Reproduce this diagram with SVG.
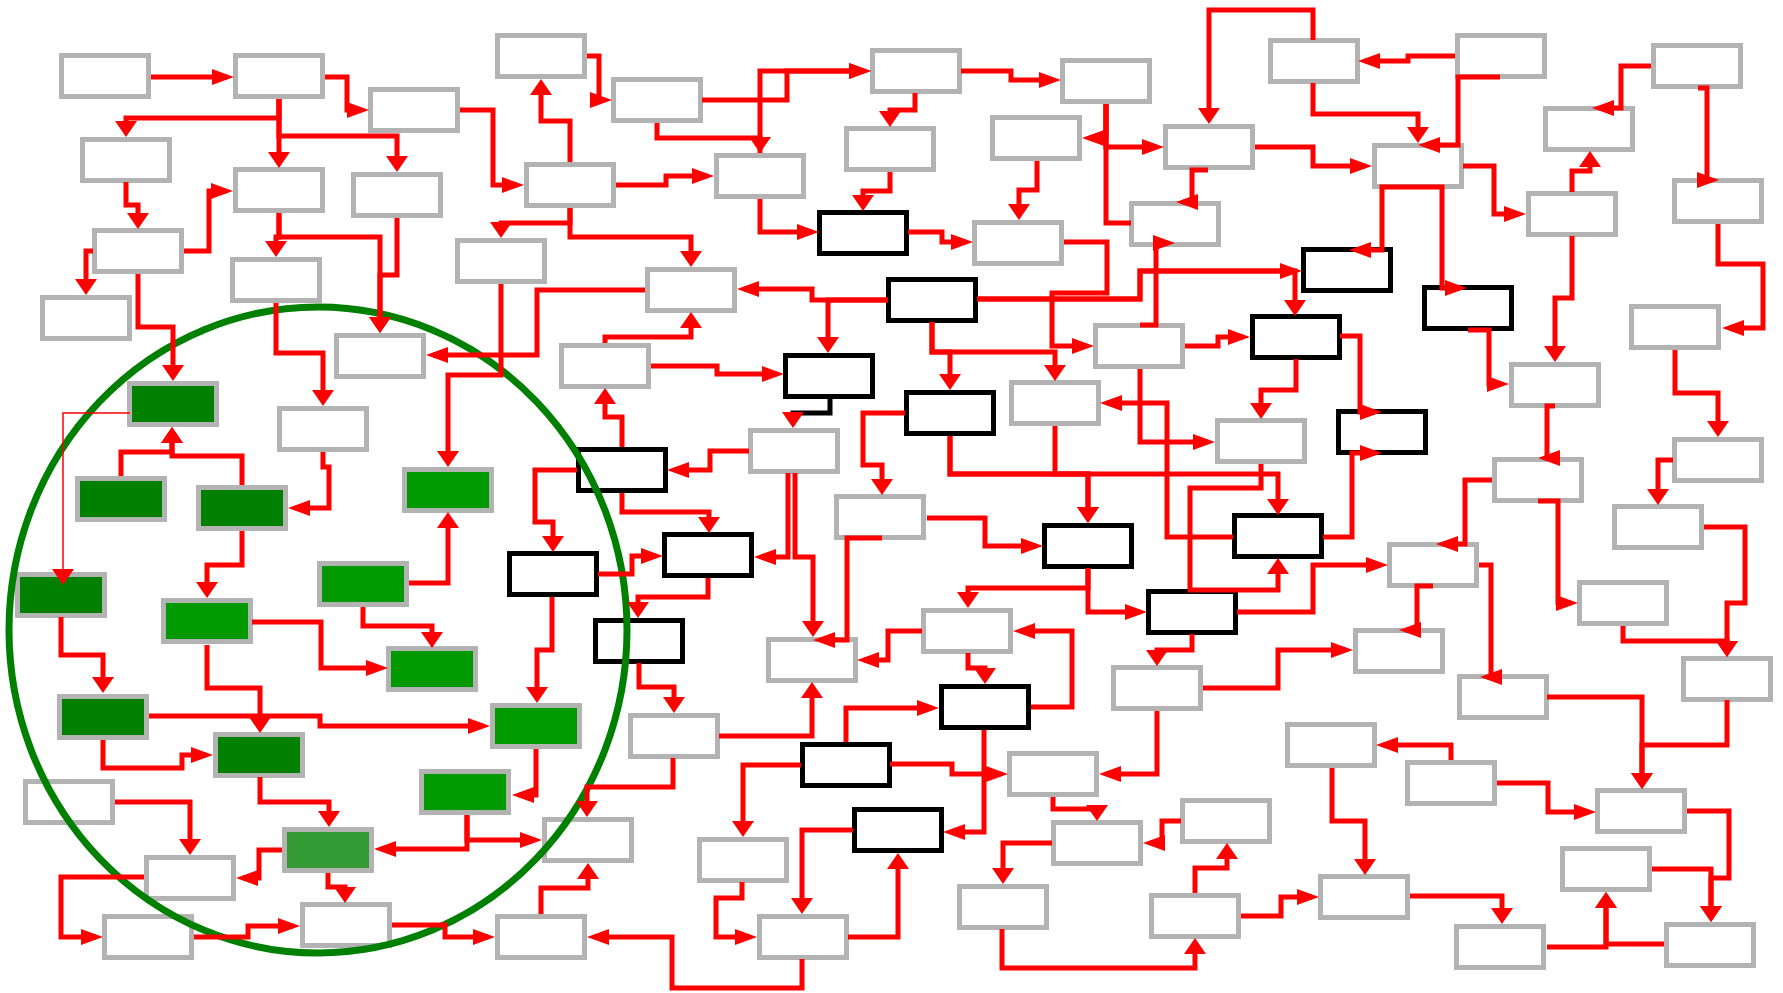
<svg xmlns="http://www.w3.org/2000/svg" width="1783" height="993" viewBox="0 0 1783 993">
<style>
.n rect{fill:#fff;stroke:#b3b3b3;stroke-width:5}
.k rect{stroke:#000}
.d rect{fill:#008000}
.e rect{fill:#009900}
.m rect{fill:#339933}
#conn path{fill:none;stroke:#f00;stroke-width:5}
#conn path.h{marker-end:url(#ah)}
#conn path.v{marker-end:url(#av)}
#conn path.t{stroke-width:1.5}
#conn path.bk{stroke:#000}
</style>
<defs>
<marker id="ah" markerUnits="userSpaceOnUse" markerWidth="22" markerHeight="16" refX="15" refY="8" orient="auto" overflow="visible"><path d="M0,0L22,8L0,16z" fill="#f00"/></marker>
<marker id="av" markerUnits="userSpaceOnUse" markerWidth="16" markerHeight="22" refX="10" refY="11" orient="auto" overflow="visible"><path d="M0,0L16,11L0,22z" fill="#f00"/></marker>
</defs>
<rect width="1783" height="993" fill="#fff"/>
<g id="nodes">
<g id="n1" class="n"><rect x="61.5" y="55.5" width="87" height="41"/></g>
<g id="n2" class="n"><rect x="235.5" y="55.5" width="87" height="41"/></g>
<g id="n3" class="n"><rect x="370.5" y="89.5" width="87" height="41"/></g>
<g id="n4" class="n"><rect x="82.5" y="139.5" width="87" height="41"/></g>
<g id="n5" class="n"><rect x="235.5" y="169.5" width="87" height="41"/></g>
<g id="n6" class="n"><rect x="353.5" y="174.5" width="87" height="41"/></g>
<g id="n7" class="n"><rect x="94.5" y="230.5" width="87" height="41"/></g>
<g id="n8" class="n"><rect x="232.5" y="259.5" width="87" height="41"/></g>
<g id="n9" class="n"><rect x="42.5" y="297.5" width="87" height="41"/></g>
<g id="n10" class="n"><rect x="336.5" y="335.5" width="87" height="41"/></g>
<g id="n11" class="n"><rect x="497.5" y="35.5" width="87" height="41"/></g>
<g id="n12" class="n"><rect x="613.5" y="79.5" width="87" height="41"/></g>
<g id="n13" class="n"><rect x="872.5" y="50.5" width="87" height="41"/></g>
<g id="n14" class="n"><rect x="526.5" y="164.5" width="87" height="41"/></g>
<g id="n15" class="n"><rect x="716.5" y="155.5" width="87" height="41"/></g>
<g id="n16" class="n"><rect x="846.5" y="128.5" width="87" height="41"/></g>
<g id="n17" class="n k"><rect x="819.5" y="212.5" width="87" height="41"/></g>
<g id="n18" class="n"><rect x="457.5" y="240.5" width="87" height="41"/></g>
<g id="n19" class="n"><rect x="647.5" y="269.5" width="87" height="41"/></g>
<g id="n20" class="n k"><rect x="888.5" y="279.5" width="87" height="41"/></g>
<g id="n21" class="n k"><rect x="785.5" y="355.5" width="87" height="41"/></g>
<g id="n22" class="n"><rect x="1062.5" y="60.5" width="87" height="41"/></g>
<g id="n23" class="n"><rect x="1131.5" y="203.5" width="87" height="41"/></g>
<g id="n24" class="n"><rect x="992.5" y="117.5" width="87" height="41"/></g>
<g id="n25" class="n"><rect x="1165.5" y="126.5" width="87" height="41"/></g>
<g id="n26" class="n"><rect x="1374.5" y="145.5" width="87" height="41"/></g>
<g id="n27" class="n"><rect x="1095.5" y="325.5" width="87" height="41"/></g>
<g id="n28" class="n k"><rect x="1303.5" y="249.5" width="87" height="41"/></g>
<g id="n29" class="n k"><rect x="1252.5" y="316.5" width="87" height="41"/></g>
<g id="n30" class="n"><rect x="974.5" y="222.5" width="87" height="41"/></g>
<g id="n31" class="n"><rect x="1011.5" y="382.5" width="87" height="41"/></g>
<g id="n32" class="n k"><rect x="906.5" y="392.5" width="87" height="41"/></g>
<g id="n34" class="n"><rect x="1217.5" y="420.5" width="87" height="41"/></g>
<g id="n35" class="n k"><rect x="1234.5" y="515.5" width="87" height="41"/></g>
<g id="n36" class="n k"><rect x="1044.5" y="525.5" width="87" height="41"/></g>
<g id="n37" class="n"><rect x="836.5" y="496.5" width="87" height="41"/></g>
<g id="n38" class="n"><rect x="923.5" y="610.5" width="87" height="41"/></g>
<g id="n39" class="n k"><rect x="1148.5" y="591.5" width="87" height="41"/></g>
<g id="n41" class="n"><rect x="1113.5" y="667.5" width="87" height="41"/></g>
<g id="n42" class="n"><rect x="561.5" y="345.5" width="87" height="41"/></g>
<g id="n44" class="n"><rect x="750.5" y="430.5" width="87" height="41"/></g>
<g id="n45" class="n k"><rect x="578.5" y="449.5" width="87" height="41"/></g>
<g id="n46" class="n k"><rect x="664.5" y="534.5" width="87" height="41"/></g>
<g id="n47" class="n k"><rect x="509.5" y="553.5" width="87" height="41"/></g>
<g id="n48" class="n k"><rect x="595.5" y="620.5" width="87" height="41"/></g>
<g id="n49" class="n"><rect x="768.5" y="639.5" width="87" height="41"/></g>
<g id="n51" class="n"><rect x="279.5" y="408.5" width="87" height="41"/></g>
<g id="n52" class="n"><rect x="25.5" y="781.5" width="87" height="41"/></g>
<g id="n53" class="n"><rect x="146.5" y="857.5" width="87" height="41"/></g>
<g id="n54" class="n"><rect x="104.5" y="916.5" width="87" height="41"/></g>
<g id="n55" class="n"><rect x="302.5" y="904.5" width="87" height="41"/></g>
<g id="n57" class="n"><rect x="630.5" y="715.5" width="87" height="41"/></g>
<g id="n58" class="n"><rect x="544.5" y="819.5" width="87" height="41"/></g>
<g id="n59" class="n"><rect x="497.5" y="916.5" width="87" height="41"/></g>
<g id="n60" class="n k"><rect x="802.5" y="744.5" width="87" height="41"/></g>
<g id="n61" class="n"><rect x="699.5" y="839.5" width="87" height="41"/></g>
<g id="n62" class="n"><rect x="759.5" y="916.5" width="87" height="41"/></g>
<g id="n63" class="n k"><rect x="854.5" y="809.5" width="87" height="41"/></g>
<g id="n64" class="n k"><rect x="941.5" y="686.5" width="87" height="41"/></g>
<g id="n65" class="n"><rect x="1009.5" y="753.5" width="87" height="41"/></g>
<g id="n66" class="n"><rect x="1182.5" y="800.5" width="87" height="41"/></g>
<g id="n67" class="n"><rect x="1053.5" y="822.5" width="87" height="41"/></g>
<g id="n68" class="n"><rect x="959.5" y="886.5" width="87" height="41"/></g>
<g id="n69" class="n"><rect x="1151.5" y="895.5" width="87" height="41"/></g>
<g id="n70" class="n"><rect x="1287.5" y="724.5" width="87" height="41"/></g>
<g id="n71" class="n"><rect x="1320.5" y="876.5" width="87" height="41"/></g>
<g id="n72" class="n"><rect x="1355.5" y="630.5" width="87" height="41"/></g>
<g id="n73" class="n"><rect x="1459.5" y="676.5" width="87" height="41"/></g>
<g id="n74" class="n"><rect x="1683.5" y="658.5" width="87" height="41"/></g>
<g id="n75" class="n"><rect x="1407.5" y="762.5" width="87" height="41"/></g>
<g id="n76" class="n"><rect x="1597.5" y="790.5" width="87" height="41"/></g>
<g id="n78" class="n"><rect x="1562.5" y="848.5" width="87" height="41"/></g>
<g id="n79" class="n"><rect x="1456.5" y="926.5" width="87" height="41"/></g>
<g id="n80" class="n"><rect x="1666.5" y="924.5" width="87" height="41"/></g>
<g id="n82" class="n k"><rect x="1424.5" y="287.5" width="87" height="41"/></g>
<g id="n83" class="n k"><rect x="1338.5" y="411.5" width="87" height="41"/></g>
<g id="n84" class="n"><rect x="1511.5" y="364.5" width="87" height="41"/></g>
<g id="n85" class="n"><rect x="1494.5" y="459.5" width="87" height="41"/></g>
<g id="n86" class="n"><rect x="1631.5" y="306.5" width="87" height="41"/></g>
<g id="n87" class="n"><rect x="1674.5" y="439.5" width="87" height="41"/></g>
<g id="n88" class="n"><rect x="1614.5" y="506.5" width="87" height="41"/></g>
<g id="n89" class="n"><rect x="1389.5" y="544.5" width="87" height="41"/></g>
<g id="n90" class="n"><rect x="1579.5" y="582.5" width="87" height="41"/></g>
<g id="n93" class="n"><rect x="1270.5" y="40.5" width="87" height="41"/></g>
<g id="n94" class="n"><rect x="1457.5" y="35.5" width="87" height="41"/></g>
<g id="n95" class="n"><rect x="1653.5" y="45.5" width="87" height="41"/></g>
<g id="n96" class="n"><rect x="1545.5" y="108.5" width="87" height="41"/></g>
<g id="n97" class="n"><rect x="1528.5" y="193.5" width="87" height="41"/></g>
<g id="n98" class="n"><rect x="1674.5" y="180.5" width="87" height="41"/></g>
<g id="g1" class="n d"><rect x="129.5" y="383.5" width="87" height="41"/></g>
<g id="g2" class="n e"><rect x="404.5" y="469.5" width="87" height="41"/></g>
<g id="g4" class="n d"><rect x="77.5" y="478.5" width="87" height="41"/></g>
<g id="g5" class="n d"><rect x="198.5" y="487.5" width="87" height="41"/></g>
<g id="g7" class="n d"><rect x="17.5" y="574.5" width="87" height="41"/></g>
<g id="g8" class="n e"><rect x="163.5" y="600.5" width="87" height="41"/></g>
<g id="g9" class="n e"><rect x="319.5" y="563.5" width="87" height="41"/></g>
<g id="g10" class="n e"><rect x="388.5" y="648.5" width="87" height="41"/></g>
<g id="g11" class="n d"><rect x="59.5" y="696.5" width="87" height="41"/></g>
<g id="g12" class="n d"><rect x="215.5" y="734.5" width="87" height="41"/></g>
<g id="g13" class="n m"><rect x="284.5" y="829.5" width="87" height="41"/></g>
<g id="g14" class="n e"><rect x="421.5" y="771.5" width="87" height="41"/></g>
<g id="g15" class="n e"><rect x="492.5" y="705.5" width="87" height="41"/></g>
</g>
<ellipse id="region" cx="318" cy="630" rx="309" ry="323" fill="none" stroke="#008000" stroke-width="7"/>
<g id="conn">
<path class="h" d="M151,77 H227"/>
<path class="h" d="M325,77 H347 V110 H362"/>
<path class="v" d="M279,99 V118 H126 V131"/>
<path class="v" d="M279,99 V162"/>
<path class="v" d="M279,99 V136 H397 V166"/>
<path class="v" d="M126,182 V205 H138 V223"/>
<path class="h" d="M184,251 H209 V191 H226"/>
<path class="v" d="M93,251 H86 V289"/>
<path class="v" d="M138,274 V327 H173 V375"/>
<path class="v" d="M279,213 V237 H276 V251"/>
<path class="v" d="M279,213 V237 H380 V327"/>
<path class="v" d="M397,218 V275 H380 V327"/>
<path class="v" d="M276,303 V353 H323 V400"/>
<path class="h" d="M460,110 H493 V185 H517"/>
<path class="h" d="M587,56 H599 V100 H605"/>
<path class="v" d="M570,162 V121 H541 V85"/>
<path class="h" d="M702,100 H787 V71 H864"/>
<path class="h" d="M760,153 V71 H864"/>
<path class="v" d="M657,123 V138 H760 V147"/>
<path class="h" d="M616,185 H666 V176 H707"/>
<path class="v" d="M570,208 V223 H501 V232"/>
<path class="v" d="M570,208 V237 H691 V261"/>
<path class="h" d="M760,199 V232 H812"/>
<path class="v" d="M915,93 V110 H890 V121"/>
<path class="v" d="M890,172 V191 H863 V205"/>
<path class="h" d="M908,232 H942 V242 H966"/>
<path class="h" d="M961,71 H1011 V80 H1054"/>
<path class="h" d="M1106,104 V138 H1089"/>
<path class="h" d="M1106,104 V147 H1157"/>
<path d="M1106,104 V223 H1131"/>
<path class="v" d="M1037,161 V190 H1019 V214"/>
<path class="v" d="M1313,40 V10 H1209 V118"/>
<path class="h" d="M1255,147 H1313 V166 H1365"/>
<path class="h" d="M1208,170 H1192 V202 H1183"/>
<path class="h" d="M1140,325 H1156 V243 H1168"/>
<path class="h" d="M1064,242 H1107 V293 H1052 V346 H1087"/>
<path class="h" d="M977,299 H1140 V271 H1295"/>
<path class="v" d="M977,299 H1140 V271 H1295 V310"/>
<path class="h" d="M888,300 H812 V289 H744"/>
<path class="v" d="M888,300 H828 V347"/>
<path class="v" d="M932,322 V352 H950 V384"/>
<path class="v" d="M932,322 V352 H1055 V375"/>
<path class="h" d="M1185,346 H1218 V337 H1243"/>
<path class="v" d="M1296,359 V390 H1261 V413"/>
<path class="h" d="M1140,369 V442 H1208"/>
<path class="h" d="M1233,537 H1167 V403 H1107"/>
<path class="v" d="M950,436 V474 H1088 V517"/>
<path class="v" d="M950,436 V474 H1278 V509"/>
<path class="v" d="M1055,426 V474 H1088 V517"/>
<path class="v" d="M1261,464 V488 H1190 V590 H1278 V564"/>
<path class="h" d="M927,518 H985 V546 H1036"/>
<path class="v" d="M1088,568 V588 H968 V602"/>
<path class="h" d="M1088,568 V612 H1140"/>
<path class="h" d="M1237,612 H1313 V565 H1381"/>
<path class="v" d="M1192,634 V650 H1157 V660"/>
<path class="v" d="M905,413 H863 V465 H882 V489"/>
<path class="h" d="M922,631 H888 V660 H864"/>
<path class="h" d="M1031,707 H1072 V631 H1020"/>
<path class="v" d="M968,653 V668 H985 V678"/>
<path class="h" d="M846,742 V708 H932"/>
<path class="h" d="M890,764 H952 V774 H1001"/>
<path class="h" d="M984,730 V832 H950"/>
<path class="h" d="M1157,711 V774 H1106"/>
<path class="h" d="M1203,688 H1278 V650 H1346"/>
<path class="v" d="M1053,797 V809 H1097 V815"/>
<path class="h" d="M1181,821 H1162 V843 H1150"/>
<path class="v" d="M1052,843 H1003 V878"/>
<path class="v" d="M1002,929 V968 H1195 V944"/>
<path class="v" d="M1195,893 V868 H1227 V849"/>
<path class="h" d="M1241,916 H1281 V897 H1312"/>
<path class="v" d="M605,343 V337 H691 V318"/>
<path class="h" d="M651,366 H717 V374 H777"/>
<path class="v bk" d="M830,398 V413 H793 V422"/>
<path class="h" d="M749,451 H710 V470 H674"/>
<path class="v" d="M622,447 V417 H605 V394"/>
<path class="v" d="M577,470 H535 V522 H553 V546"/>
<path class="v" d="M622,493 V512 H709 V527"/>
<path class="h" d="M788,473 V557 H761"/>
<path class="v" d="M795,473 V557 H813 V631"/>
<path class="h" d="M598,574 H632 V556 H656"/>
<path class="v" d="M708,578 V597 H638 V612"/>
<path class="v" d="M552,597 V650 H537 V697"/>
<path class="h" d="M645,290 H537 V355 H433"/>
<path class="v" d="M501,284 V375 H448 V461"/>
<path class="v" d="M409,583 H448 V518"/>
<path class="h" d="M882,538 H847 V640 H820"/>
<path class="v" d="M639,663 V687 H674 V707"/>
<path class="v" d="M719,736 H812 V688"/>
<path class="h" d="M536,749 V795 H519"/>
<path class="v" d="M673,758 V787 H587 V811"/>
<path class="h" d="M467,815 V840 H535"/>
<path class="h" d="M467,815 V849 H381"/>
<path class="v" d="M541,914 V888 H588 V869"/>
<path class="h" d="M392,925 H445 V937 H488"/>
<path class="h" d="M802,959 V988 H672 V937 H594"/>
<path class="v" d="M801,765 H743 V831"/>
<path class="v" d="M853,830 H802 V908"/>
<path class="h" d="M742,882 V898 H716 V937 H750"/>
<path class="v" d="M848,937 H898 V859"/>
<path class="h" d="M1455,56 H1408 V61 H1365"/>
<path class="h" d="M1500,77 H1458 V145 H1425"/>
<path class="v" d="M1313,83 V114 H1418 V137"/>
<path class="h" d="M1463,166 H1494 V214 H1519"/>
<path class="v" d="M1572,192 V171 H1590 V157"/>
<path class="h" d="M1651,66 H1621 V108 H1599"/>
<path class="h" d="M1698,88 H1707 V180 H1712"/>
<path class="h" d="M1718,224 V264 H1763 V328 H1729"/>
<path class="h" d="M1418,187 H1382 V250 H1356"/>
<path class="h" d="M1418,187 H1442 V288 H1460"/>
<path class="v" d="M1572,236 V298 H1555 V356"/>
<path class="h" d="M1340,336 H1360 V412 H1375"/>
<path class="h" d="M1323,537 H1352 V453 H1375"/>
<path class="h" d="M1468,330 H1489 V384 H1502"/>
<path class="v" d="M1675,350 V393 H1718 V431"/>
<path class="h" d="M1555,406 H1547 V458 H1545"/>
<path class="h" d="M1492,480 H1465 V544 H1443"/>
<path class="h" d="M1538,501 H1558 V603 H1571"/>
<path class="v" d="M1673,460 H1658 V499"/>
<path class="v" d="M1704,527 H1745 V603 H1727 V651"/>
<path class="v" d="M1623,626 V641 H1727 V651"/>
<path class="h" d="M1433,586 H1417 V630 H1406"/>
<path class="h" d="M1479,565 H1491 V677 H1487"/>
<path class="v" d="M1547,697 H1642 V783"/>
<path class="v" d="M1727,700 V745 H1642 V783"/>
<path class="h" d="M1451,760 V745 H1383"/>
<path class="h" d="M1497,783 H1548 V812 H1589"/>
<path class="v" d="M1332,768 V821 H1365 V869"/>
<path class="v" d="M1410,896 H1502 V918"/>
<path class="v" d="M1687,811 H1729 V878 H1711 V916"/>
<path class="v" d="M1652,869 H1711 V916"/>
<path class="v" d="M1547,947 H1606 V898"/>
<path class="v" d="M1664,944 H1606 V898"/>
<path class="h" d="M323,452 V467 H329 V508 H295"/>
<path class="v" d="M121,476 V452 H172 V433"/>
<path class="v" d="M242,485 V456 H172 V433"/>
<path class="v t" d="M130,413 H63 V579"/>
<path class="v" d="M242,531 V565 H207 V592"/>
<path class="v" d="M61,617 V655 H103 V687"/>
<path class="h" d="M252,622 H321 V668 H381"/>
<path class="v" d="M363,607 V626 H432 V642"/>
<path class="v" d="M207,645 V688 H260 V727"/>
<path class="h" d="M149,716 H320 V726 H483"/>
<path class="h" d="M103,740 V768 H182 V755 H206"/>
<path class="v" d="M260,777 V802 H329 V821"/>
<path class="v" d="M115,802 H190 V849"/>
<path class="h" d="M282,850 H259 V878 H243"/>
<path class="h" d="M144,877 H61 V937 H96"/>
<path class="v" d="M328,873 V887 H345 V897"/>
<path class="h" d="M194,937 H248 V926 H293"/>
</g>
</svg>
